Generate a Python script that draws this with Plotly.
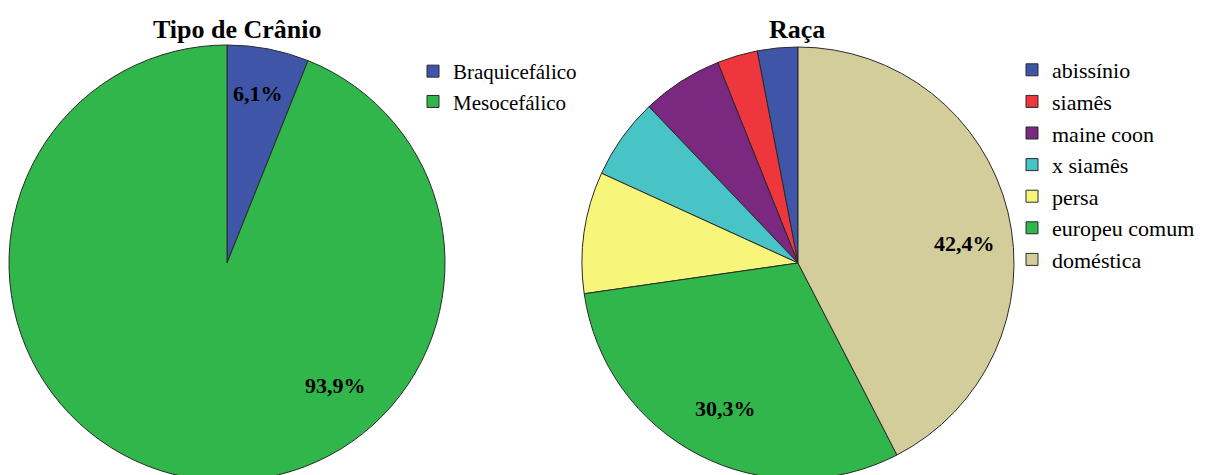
import plotly.graph_objects as go

# ---- data ----
cranio_labels = ["Braquicefálico", "Mesocefálico"]
cranio_values = [2, 31]
cranio_colors = ["#3F56A8", "#30B64A"]

raca_labels = ["abissínio", "siamês", "maine coon", "x siamês", "persa", "europeu comum", "doméstica"]
raca_values = [1, 1, 2, 2, 3, 10, 14]
raca_colors = ["#3F56A8", "#EE363D", "#7A2880", "#48C3C6", "#F8F67A", "#30B64A", "#D3CD9B"]

W, H = 1227, 475
OFF = 8          # default page body margin
T, B = 37, 2
PH = H - T - B


def fx(sx):
    return (sx - OFF) / W


def fy(sy):
    return (H - B - (sy - OFF)) / PH


def pct(v, vals):
    return f"{v / sum(vals) * 100:.1f}".replace(".", ",") + "%"


fig = go.Figure()

fig.add_trace(go.Pie(
    labels=cranio_labels, values=cranio_values, sort=False,
    direction="clockwise", rotation=0,
    marker=dict(colors=cranio_colors, line=dict(color="#2a2a2a", width=1)),
    textinfo="none", hoverinfo="label+percent",
    domain=dict(x=[fx(227 - 218), fx(227 + 218)], y=[0, 1]),
    legend="legend",
))

fig.add_trace(go.Pie(
    labels=raca_labels, values=raca_values, sort=False,
    direction="counterclockwise",
    rotation=-360 * raca_values[0] / sum(raca_values),
    marker=dict(colors=raca_colors, line=dict(color="#2a2a2a", width=1)),
    textinfo="none", hoverinfo="label+percent",
    domain=dict(x=[fx(798 - 216), fx(798 + 216)], y=[0, 1]),
    legend="legend2",
))

serif = "Liberation Serif"
ann = []
for title, cx in [("Tipo de Crânio", 237), ("Raça", 797)]:
    ann.append(dict(text=f"<b>{title}</b>", x=fx(cx), y=fy(29), xref="paper", yref="paper",
                    xanchor="center", yanchor="middle", showarrow=False,
                    font=dict(family=serif, size=26, color="black")))

label_pos = [
    (cranio_values[0], cranio_values, 258, 93),
    (cranio_values[1], cranio_values, 335, 385),
    (raca_values[6], raca_values, 964, 243),
    (raca_values[5], raca_values, 725, 408),
]
for v, vals, x, y in label_pos:
    ann.append(dict(text=f"<b>{pct(v, vals)}</b>", x=fx(x), y=fy(y), xref="paper", yref="paper",
                    xanchor="center", yanchor="middle", showarrow=False,
                    font=dict(family=serif, size=22, color="black")))


def legend_style(size):
    return dict(font=dict(family=serif, size=size, color="black"), bgcolor="rgba(0,0,0,0)",
                itemwidth=30, tracegroupgap=0, yanchor="top", xanchor="left", traceorder="normal")


fig.update_layout(
    width=W, height=H,
    margin=dict(l=0, r=0, t=T, b=B),
    paper_bgcolor="white", plot_bgcolor="white",
    font=dict(family=serif),
    annotations=ann,
    legend=dict(x=fx(413), y=fy(51), **legend_style(21)),
    legend2=dict(x=fx(1012), y=fy(49), **legend_style(22)),
)

fig.write_html("out.html")
